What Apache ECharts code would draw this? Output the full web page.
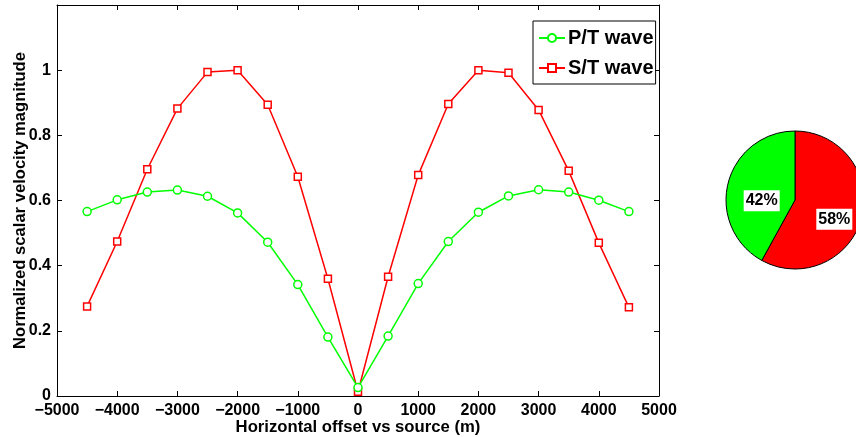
<!DOCTYPE html>
<html>
<head>
<meta charset="utf-8">
<script src="https://cdn.jsdelivr.net/npm/echarts@6/dist/echarts.min.js"></script>
<style>
html,body{margin:0;padding:0;background:#fff;}
#chart{width:856px;height:437px;}
</style>
</head>
<body>
<div id="chart"></div>
<script>
const offsets = [-4500,-4000,-3500,-3000,-2500,-2000,-1500,-1000,-500,0,500,1000,1500,2000,2500,3000,3500,4000,4500];
const pWave = [0.566,0.602,0.626,0.632,0.613,0.562,0.472,0.342,0.181,0.026,0.184,0.345,0.474,0.564,0.614,0.633,0.626,0.601,0.566];
const sWave = [0.275,0.474,0.696,0.882,0.994,1.000,0.894,0.673,0.360,0.013,0.366,0.678,0.896,1.000,0.992,0.878,0.691,0.470,0.272];
const seriesNames = ['P/T wave','S/T wave'];
const pieNames = ['S share','P share'];
const pieValues = [58,42];
const xTitle = 'Horizontal offset vs source (m)';
const yTitle = 'Normalized scalar velocity magnitude';

const FONT = '"Liberation Sans", Arial, Helvetica, sans-serif';
const chart = echarts.init(document.getElementById('chart'), null, {renderer:'canvas'});
const toPairs = arr => offsets.map((x,i)=>[x,arr[i]]);
const axisLineStyle = {show:true, onZero:false, lineStyle:{color:'#000', width:1}};
const tick = {show:true, inside:true, length:5, lineStyle:{color:'#000', width:1}};

chart.setOption({
  animation:false,
  backgroundColor:'#fff',
  textStyle:{fontFamily:FONT},
  grid:{left:57, right:197, top:5, bottom:41, containLabel:false, outerBoundsMode:'none'},
  legend:{
    data:seriesNames,
    orient:'vertical',
    left:533, top:21,
    backgroundColor:'#fff',
    borderColor:'#000', borderWidth:1,
    padding:[7,2,6,5],
    itemGap:10,
    itemWidth:26, itemHeight:10,
    textStyle:{fontFamily:FONT, fontWeight:'bold', fontSize:20, color:'#000', padding:[0,0,0,-2]}
  },
  xAxis:[{
    type:'value', min:-5000, max:5000, interval:1000,
    name:xTitle, nameLocation:'middle', nameGap:23, nameMoveOverlap:false,
    nameTextStyle:{fontFamily:FONT, fontWeight:'bold', fontSize:16.7, color:'#000'},
    axisLine:axisLineStyle, axisTick:tick, splitLine:{show:false},
    axisLabel:{fontFamily:FONT, fontWeight:'bold', fontSize:16, color:'#000', margin:7,
      formatter:v=>String(v).replace('-','\u2212')}
  },{
    type:'value', position:'top', min:-5000, max:5000, interval:1000,
    axisLine:axisLineStyle, axisTick:tick, splitLine:{show:false}, axisLabel:{show:false}
  }],
  yAxis:[{
    type:'value', min:0, max:1.2, interval:0.2,
    name:yTitle, nameLocation:'middle', nameGap:28, nameMoveOverlap:false,
    nameTextStyle:{fontFamily:FONT, fontWeight:'bold', fontSize:16.6, color:'#000'},
    axisLine:axisLineStyle, axisTick:tick, splitLine:{show:false},
    axisLabel:{fontFamily:FONT, fontWeight:'bold', fontSize:16, color:'#000', margin:6,
      formatter:v=> v>1.1 ? '' : String(Math.round(v*10)/10)}
  },{
    type:'value', position:'right', min:0, max:1.2, interval:0.2,
    axisLine:axisLineStyle, axisTick:tick, splitLine:{show:false}, axisLabel:{show:false}
  }],
  series:[{
    name:seriesNames[0], type:'line', data:toPairs(pWave),
    symbol:'circle', symbolSize:8, showAllSymbol:true,
    lineStyle:{color:'#00ff00', width:1.5},
    itemStyle:{color:'#fff', borderColor:'#00ff00', borderWidth:1.5},
    z:3
  },{
    name:seriesNames[1], type:'line', data:toPairs(sWave),
    symbol:'rect', symbolSize:7, showAllSymbol:true,
    lineStyle:{color:'#ff0000', width:1.5},
    itemStyle:{color:'#fff', borderColor:'#ff0000', borderWidth:1.5},
    z:2
  },{
    type:'pie', center:[795,200], radius:69, startAngle:90, clockwise:true,
    data:pieNames.map((n,i)=>({name:n, value:pieValues[i],
      itemStyle:{color: i===0 ? '#ff0000' : '#00ff00'}})),
    itemStyle:{borderColor:'#000', borderWidth:1},
    label:{show:true, position:'inside', formatter:p=>Math.round(p.percent)+'%',
      fontFamily:FONT, fontWeight:'bold', fontSize:16, color:'#000',
      backgroundColor:'#fff', padding:[3,2,2,2]},
    labelLayout:{dx:3, dy:10},
    labelLine:{show:false},
    emphasis:{disabled:true},
    silent:true
  }]
});
</script>
</body>
</html>
